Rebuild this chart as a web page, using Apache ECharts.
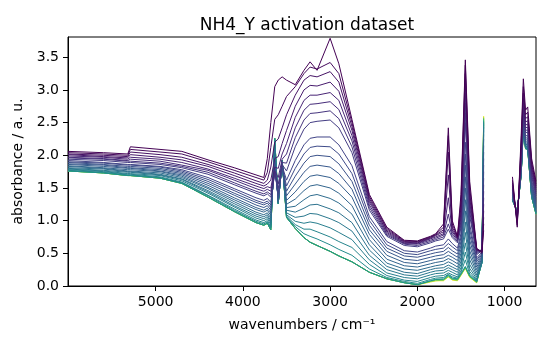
<!DOCTYPE html>
<html>
<head>
<meta charset="utf-8">
<script src="https://cdn.jsdelivr.net/npm/echarts@6/dist/echarts.min.js"></script>
<style>
  html, body { margin: 0; padding: 0; background: #fff; }
  #chart { width: 550px; height: 350px; }
</style>
</head>
<body>
<div id="chart"></div>
<script>
// wavenumbers (cm-1), high range up to the gap, then the low range after it
var wavenumbersHigh = [6005, 5600, 5320, 5290, 4950, 4700, 4400, 4100, 3850, 3760,
  3720, 3680, 3635, 3595, 3550, 3500, 3400, 3300, 3230, 3150,
  3000, 2900, 2750, 2550, 2350, 2150, 2000, 1850, 1790, 1700,
  1645, 1600, 1540, 1500, 1450, 1400, 1320, 1260, 1240];
var wavenumbersLow = [910, 855, 810, 785, 760, 735, 690, 640];

// one row per wavenumber, one value per spectrum (first spectrum .. last spectrum)
var absorbanceHigh = [
  [2.06, 2.04, 2.02, 2.01, 1.99, 1.97, 1.96, 1.94, 1.92, 1.90, 1.89, 1.87, 1.86, 1.84, 1.83, 1.81, 1.80, 1.79, 1.78, 1.77, 1.76, 1.76, 1.76, 1.76, 1.76],
  [2.04, 2.02, 2.00, 1.98, 1.97, 1.95, 1.94, 1.92, 1.89, 1.88, 1.86, 1.85, 1.83, 1.81, 1.80, 1.79, 1.77, 1.76, 1.75, 1.74, 1.73, 1.73, 1.73, 1.73, 1.73],
  [2.02, 2.00, 1.98, 1.96, 1.94, 1.92, 1.91, 1.89, 1.86, 1.85, 1.83, 1.81, 1.80, 1.78, 1.76, 1.75, 1.74, 1.72, 1.71, 1.70, 1.69, 1.69, 1.69, 1.69, 1.69],
  [2.13, 2.09, 2.05, 2.01, 1.97, 1.94, 1.91, 1.89, 1.86, 1.85, 1.83, 1.81, 1.80, 1.78, 1.76, 1.75, 1.74, 1.72, 1.71, 1.70, 1.69, 1.69, 1.69, 1.69, 1.69],
  [2.09, 2.05, 2.01, 1.97, 1.94, 1.91, 1.88, 1.86, 1.83, 1.82, 1.80, 1.78, 1.76, 1.75, 1.73, 1.71, 1.70, 1.69, 1.67, 1.66, 1.65, 1.65, 1.65, 1.65, 1.65],
  [2.06, 2.02, 1.97, 1.93, 1.89, 1.85, 1.83, 1.81, 1.78, 1.76, 1.74, 1.72, 1.70, 1.68, 1.66, 1.64, 1.63, 1.61, 1.59, 1.58, 1.57, 1.57, 1.57, 1.57, 1.57],
  [1.93, 1.90, 1.86, 1.83, 1.79, 1.77, 1.74, 1.71, 1.66, 1.63, 1.60, 1.57, 1.54, 1.51, 1.49, 1.46, 1.44, 1.42, 1.39, 1.38, 1.36, 1.36, 1.36, 1.36, 1.36],
  [1.81, 1.77, 1.73, 1.69, 1.65, 1.62, 1.58, 1.55, 1.49, 1.46, 1.42, 1.39, 1.35, 1.32, 1.29, 1.26, 1.23, 1.21, 1.18, 1.16, 1.14, 1.14, 1.14, 1.14, 1.14],
  [1.70, 1.66, 1.61, 1.57, 1.53, 1.49, 1.45, 1.42, 1.35, 1.31, 1.28, 1.24, 1.20, 1.17, 1.13, 1.10, 1.07, 1.04, 1.01, 0.99, 0.97, 0.97, 0.97, 0.97, 0.97],
  [1.66, 1.62, 1.57, 1.53, 1.49, 1.45, 1.41, 1.38, 1.31, 1.27, 1.24, 1.20, 1.16, 1.13, 1.09, 1.06, 1.03, 1.00, 0.97, 0.95, 0.93, 0.93, 0.93, 0.93, 0.93],
  [1.95, 1.74, 1.62, 1.56, 1.52, 1.48, 1.44, 1.41, 1.34, 1.30, 1.27, 1.23, 1.19, 1.16, 1.12, 1.09, 1.06, 1.03, 1.00, 0.98, 0.96, 0.96, 0.96, 0.96, 0.96],
  [2.50, 2.12, 1.82, 1.62, 1.50, 1.45, 1.40, 1.36, 1.28, 1.24, 1.20, 1.16, 1.12, 1.08, 1.04, 1.00, 0.97, 0.94, 0.91, 0.89, 0.86, 0.86, 0.86, 0.86, 0.86],
  [3.05, 2.55, 2.20, 1.95, 1.82, 1.76, 1.73, 1.72, 1.74, 1.78, 1.82, 1.87, 1.92, 1.97, 2.02, 2.07, 2.12, 2.17, 2.21, 2.24, 2.26, 2.26, 2.26, 2.26, 2.26],
  [3.15, 2.62, 2.25, 1.98, 1.80, 1.66, 1.56, 1.49, 1.42, 1.38, 1.35, 1.33, 1.31, 1.30, 1.29, 1.28, 1.27, 1.27, 1.26, 1.26, 1.26, 1.26, 1.26, 1.26, 1.26],
  [3.20, 2.75, 2.42, 2.18, 2.02, 1.94, 1.89, 1.86, 1.84, 1.84, 1.84, 1.85, 1.86, 1.87, 1.88, 1.89, 1.90, 1.91, 1.92, 1.92, 1.92, 1.92, 1.92, 1.92, 1.92],
  [3.15, 2.90, 2.62, 2.38, 2.18, 2.02, 1.88, 1.76, 1.62, 1.53, 1.45, 1.38, 1.31, 1.25, 1.20, 1.16, 1.12, 1.09, 1.07, 1.06, 1.05, 1.05, 1.05, 1.05, 1.05],
  [3.08, 3.05, 2.92, 2.75, 2.58, 2.42, 2.27, 2.13, 1.92, 1.80, 1.68, 1.56, 1.44, 1.33, 1.22, 1.13, 1.05, 0.99, 0.94, 0.91, 0.88, 0.88, 0.88, 0.88, 0.88],
  [3.30, 3.25, 3.15, 3.00, 2.84, 2.69, 2.54, 2.40, 2.16, 2.02, 1.88, 1.74, 1.60, 1.46, 1.32, 1.19, 1.07, 0.96, 0.87, 0.80, 0.74, 0.74, 0.74, 0.74, 0.74],
  [3.43, 3.35, 3.22, 3.07, 2.92, 2.78, 2.64, 2.50, 2.26, 2.12, 1.98, 1.83, 1.68, 1.53, 1.38, 1.24, 1.11, 0.98, 0.87, 0.76, 0.67, 0.67, 0.67, 0.67, 0.67],
  [3.30, 3.32, 3.20, 3.06, 2.92, 2.79, 2.65, 2.52, 2.28, 2.14, 2.00, 1.85, 1.70, 1.55, 1.40, 1.25, 1.10, 0.96, 0.83, 0.72, 0.62, 0.62, 0.62, 0.62, 0.62],
  [3.79, 3.42, 3.28, 3.12, 2.96, 2.82, 2.68, 2.54, 2.28, 2.13, 1.98, 1.82, 1.66, 1.50, 1.34, 1.18, 1.03, 0.89, 0.75, 0.63, 0.53, 0.53, 0.53, 0.53, 0.53],
  [3.40, 3.25, 3.12, 2.98, 2.84, 2.70, 2.56, 2.42, 2.16, 2.02, 1.87, 1.72, 1.57, 1.42, 1.27, 1.12, 0.97, 0.82, 0.68, 0.56, 0.46, 0.46, 0.46, 0.46, 0.46],
  [2.55, 2.50, 2.44, 2.38, 2.30, 2.22, 2.13, 2.04, 1.84, 1.72, 1.60, 1.48, 1.36, 1.23, 1.10, 0.97, 0.84, 0.71, 0.59, 0.47, 0.37, 0.37, 0.37, 0.37, 0.37],
  [1.40, 1.37, 1.34, 1.31, 1.28, 1.24, 1.20, 1.16, 1.06, 1.00, 0.93, 0.86, 0.79, 0.71, 0.63, 0.55, 0.47, 0.40, 0.33, 0.26, 0.21, 0.21, 0.21, 0.21, 0.21],
  [0.90, 0.88, 0.86, 0.84, 0.82, 0.80, 0.78, 0.76, 0.68, 0.63, 0.58, 0.53, 0.47, 0.41, 0.35, 0.30, 0.25, 0.20, 0.16, 0.13, 0.11, 0.11, 0.11, 0.11, 0.11],
  [0.70, 0.69, 0.68, 0.67, 0.66, 0.65, 0.64, 0.62, 0.54, 0.50, 0.46, 0.41, 0.36, 0.31, 0.26, 0.21, 0.17, 0.13, 0.09, 0.07, 0.05, 0.05, 0.05, 0.05, 0.05],
  [0.69, 0.68, 0.67, 0.66, 0.65, 0.64, 0.62, 0.60, 0.52, 0.48, 0.44, 0.39, 0.34, 0.29, 0.24, 0.19, 0.15, 0.11, 0.07, 0.04, 0.02, 0.02, 0.02, 0.02, 0.02],
  [0.76, 0.75, 0.74, 0.73, 0.72, 0.70, 0.68, 0.66, 0.58, 0.54, 0.49, 0.44, 0.39, 0.34, 0.29, 0.25, 0.21, 0.17, 0.13, 0.10, 0.08, 0.08, 0.07, 0.07, 0.06],
  [0.80, 0.79, 0.78, 0.77, 0.75, 0.73, 0.71, 0.69, 0.61, 0.56, 0.51, 0.46, 0.41, 0.36, 0.31, 0.27, 0.23, 0.19, 0.15, 0.12, 0.10, 0.10, 0.09, 0.08, 0.08],
  [0.95, 0.90, 0.86, 0.83, 0.80, 0.78, 0.75, 0.72, 0.63, 0.58, 0.53, 0.48, 0.43, 0.38, 0.33, 0.28, 0.24, 0.20, 0.16, 0.13, 0.11, 0.10, 0.09, 0.09, 0.08],
  [2.42, 2.30, 2.05, 1.70, 1.35, 1.10, 0.95, 0.87, 0.72, 0.65, 0.59, 0.53, 0.47, 0.42, 0.37, 0.32, 0.28, 0.24, 0.20, 0.18, 0.17, 0.16, 0.15, 0.14, 0.14],
  [1.00, 0.95, 0.90, 0.86, 0.83, 0.80, 0.77, 0.74, 0.65, 0.60, 0.54, 0.49, 0.44, 0.39, 0.34, 0.29, 0.25, 0.21, 0.17, 0.14, 0.12, 0.11, 0.10, 0.10, 0.09],
  [0.76, 0.75, 0.74, 0.73, 0.72, 0.70, 0.68, 0.66, 0.58, 0.54, 0.49, 0.44, 0.39, 0.34, 0.29, 0.25, 0.21, 0.17, 0.14, 0.12, 0.11, 0.10, 0.09, 0.09, 0.08],
  [1.40, 1.30, 1.20, 1.12, 1.05, 0.99, 0.94, 0.89, 0.80, 0.74, 0.68, 0.62, 0.56, 0.50, 0.44, 0.38, 0.33, 0.28, 0.24, 0.21, 0.19, 0.18, 0.17, 0.17, 0.16],
  [3.46, 3.38, 3.25, 3.10, 2.95, 2.80, 2.65, 2.50, 2.20, 2.02, 1.85, 1.67, 1.50, 1.32, 1.15, 0.98, 0.82, 0.66, 0.52, 0.40, 0.30, 0.29, 0.28, 0.28, 0.27],
  [1.60, 1.50, 1.42, 1.35, 1.28, 1.21, 1.14, 1.07, 0.94, 0.86, 0.78, 0.70, 0.62, 0.54, 0.47, 0.40, 0.33, 0.27, 0.22, 0.18, 0.16, 0.15, 0.14, 0.14, 0.13],
  [0.58, 0.57, 0.56, 0.55, 0.54, 0.52, 0.50, 0.48, 0.43, 0.40, 0.37, 0.33, 0.29, 0.25, 0.21, 0.17, 0.14, 0.11, 0.09, 0.08, 0.07, 0.06, 0.06, 0.05, 0.05],
  [0.50, 0.52, 0.53, 0.54, 0.55, 0.55, 0.55, 0.54, 0.52, 0.50, 0.48, 0.46, 0.44, 0.42, 0.40, 0.38, 0.37, 0.36, 0.35, 0.35, 0.35, 0.36, 0.37, 0.38, 0.39],
  [0.85, 0.95, 1.05, 1.15, 1.25, 1.35, 1.45, 1.55, 1.65, 1.75, 1.85, 1.95, 2.05, 2.15, 2.25, 2.32, 2.38, 2.43, 2.47, 2.50, 2.52, 2.55, 2.57, 2.59, 2.60]
];
var absorbanceLow = [
  [1.67, 1.62, 1.58, 1.55, 1.52, 1.50, 1.48, 1.46, 1.43, 1.41, 1.39, 1.38, 1.36, 1.35, 1.34, 1.33, 1.32, 1.32, 1.31, 1.31, 1.31, 1.31, 1.31, 1.31, 1.31],
  [0.90, 0.93, 0.96, 0.98, 1.00, 1.02, 1.04, 1.05, 1.07, 1.08, 1.09, 1.10, 1.11, 1.12, 1.12, 1.13, 1.13, 1.14, 1.14, 1.15, 1.15, 1.15, 1.15, 1.15, 1.15],
  [2.30, 2.20, 2.12, 2.05, 2.00, 1.96, 1.92, 1.89, 1.85, 1.82, 1.80, 1.78, 1.76, 1.75, 1.74, 1.73, 1.72, 1.71, 1.70, 1.70, 1.70, 1.70, 1.70, 1.70, 1.70],
  [3.17, 3.05, 2.95, 2.87, 2.80, 2.74, 2.69, 2.65, 2.60, 2.56, 2.53, 2.50, 2.48, 2.46, 2.45, 2.44, 2.43, 2.43, 2.42, 2.42, 2.42, 2.42, 2.42, 2.42, 2.42],
  [2.69, 2.62, 2.56, 2.51, 2.46, 2.42, 2.38, 2.35, 2.30, 2.27, 2.24, 2.21, 2.19, 2.17, 2.15, 2.14, 2.13, 2.12, 2.11, 2.11, 2.10, 2.10, 2.10, 2.10, 2.10],
  [2.74, 2.66, 2.59, 2.53, 2.48, 2.43, 2.39, 2.35, 2.30, 2.26, 2.23, 2.20, 2.18, 2.16, 2.14, 2.13, 2.12, 2.11, 2.10, 2.10, 2.09, 2.09, 2.09, 2.09, 2.09],
  [1.95, 1.90, 1.86, 1.82, 1.78, 1.74, 1.70, 1.67, 1.62, 1.58, 1.55, 1.52, 1.49, 1.46, 1.44, 1.42, 1.40, 1.39, 1.38, 1.37, 1.36, 1.36, 1.36, 1.36, 1.36],
  [1.60, 1.56, 1.53, 1.50, 1.47, 1.44, 1.41, 1.38, 1.34, 1.31, 1.28, 1.25, 1.22, 1.20, 1.18, 1.16, 1.14, 1.13, 1.12, 1.11, 1.10, 1.10, 1.10, 1.10, 1.10]
];

var yTicks = [0, 0.5, 1, 1.5, 2, 2.5, 3, 3.5];
var xTicks = [5000, 4000, 3000, 2000, 1000];

var VIRIDIS = ['#440154', '#482475', '#414487', '#355f8d', '#2a788e', '#21918c',
  '#22a884', '#44bf70', '#7ad151', '#bddf26', '#fde725'];

function viridis(t) {
  var s = t * 10;
  var k = Math.min(9, Math.floor(s));
  var f = s - k;
  var a = VIRIDIS[k], b = VIRIDIS[k + 1];
  var out = '#';
  for (var c = 1; c < 7; c += 2) {
    var va = parseInt(a.substr(c, 2), 16), vb = parseInt(b.substr(c, 2), 16);
    var v = Math.round(va + (vb - va) * f);
    out += (v < 16 ? '0' : '') + v.toString(16);
  }
  return out;
}

// colour position in the colormap: spectra spread over the first half,
// the last few (converged) ones over the rest
function colorPos(i) {
  return i <= 20 ? i * 0.025 : 0.5 + (i - 20) * 0.125;
}

var FONT = 'DejaVu Sans';
var spectraCount = absorbanceHigh[0].length;
var seriesList = [];
// later spectra are drawn first so the early (purple) ones sit on top
for (var i = spectraCount - 1; i >= 0; i--) {
  var pts = [];
  wavenumbersHigh.forEach(function (w, j) { pts.push([w, absorbanceHigh[j][i]]); });
  pts.push([1075, null]);
  wavenumbersLow.forEach(function (w, j) { pts.push([w, absorbanceLow[j][i]]); });
  seriesList.push({
    type: 'line',
    data: pts,
    symbol: 'none',
    showSymbol: false,
    connectNulls: false,
    silent: true,
    lineStyle: { width: 1, color: viridis(colorPos(i)) }
  });
}

var myChart = echarts.init(document.getElementById('chart'));
var option = {
  animation: false,
  backgroundColor: '#fff',
  title: {
    text: 'NH4_Y activation dataset',
    left: 302,
    top: 12,
    textAlign: 'center',
    textStyle: { fontFamily: FONT, fontSize: 17, fontWeight: 'normal', color: '#000' }
  },
  grid: {
    left: 68, right: 14, top: 37, bottom: 64,
    show: true, borderColor: '#000', borderWidth: 1, backgroundColor: 'transparent'
  },
  xAxis: {
    type: 'value',
    inverse: true,
    min: 640,
    max: 6005,
    name: 'wavenumbers / cm⁻¹',
    nameLocation: 'middle',
    nameGap: 32,
    nameTextStyle: { fontFamily: FONT, fontSize: 14, color: '#000' },
    axisLine: { show: true, onZero: false, lineStyle: { color: '#000', width: 1 } },
    axisTick: { show: true, length: 5, customValues: xTicks, lineStyle: { color: '#000' } },
    axisLabel: {
      margin: 9, customValues: xTicks, fontFamily: FONT, fontSize: 14, color: '#000',
      formatter: function (v) { return String(v); }
    },
    splitLine: { show: false }
  },
  yAxis: {
    type: 'value',
    min: 0,
    max: 3.81,
    name: 'absorbance / a. u.',
    nameLocation: 'middle',
    nameGap: 37,
    nameTextStyle: { fontFamily: FONT, fontSize: 14, color: '#000' },
    axisLine: { show: true, onZero: false, lineStyle: { color: '#000', width: 1 } },
    axisTick: { show: true, length: 5, customValues: yTicks, lineStyle: { color: '#000' } },
    axisLabel: {
      margin: 9, customValues: yTicks, fontFamily: FONT, fontSize: 14, color: '#000',
      formatter: function (v) { return v.toFixed(1); }
    },
    splitLine: { show: false }
  },
  series: seriesList
};
myChart.setOption(option);
</script>
</body>
</html>
